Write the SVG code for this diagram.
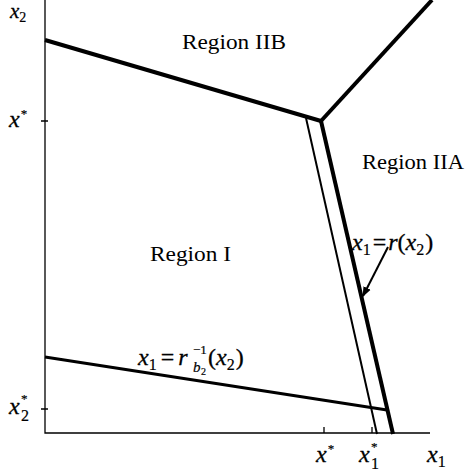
<svg xmlns="http://www.w3.org/2000/svg" width="469" height="473" viewBox="0 0 469 473">
<style>
text{font-family:"Liberation Serif","DejaVu Serif",serif;fill:#000}
.r{font-size:20px}
.m{font-size:24px;font-style:italic;stroke:#000;stroke-width:0.3}
.n{font-style:normal}
.s{font-size:16px;font-style:normal;stroke:#000;stroke-width:0.2}
.st{font-size:13px;font-style:normal;stroke:#000;stroke-width:0.2}
.ax{stroke:#000;stroke-width:1.3;fill:none}
.th{stroke:#000;stroke-width:4;fill:none;stroke-linecap:butt}
.md{stroke:#000;stroke-width:3;fill:none}
.tn{stroke:#000;stroke-width:2;fill:none}
</style>
<defs>
<marker id="ah" markerWidth="10" markerHeight="10" refX="9" refY="5" orient="auto" markerUnits="userSpaceOnUse">
<path d="M0,1 L10,5 L0,9 Z" fill="#000"/>
</marker>
</defs>
<g id="axes">
<path class="ax" d="M45,0 V433 H430"/>
<path class="ax" d="M41,121 H48 M41,409 H48 M324,433 V427 M372,433 V427"/>
</g>
<g id="connectors">
<path class="th" d="M45,40 L321,121"/>
<path class="th" d="M321,121 L432,0"/>
<path class="th" d="M321,121 L393,434"/>
<path class="tn" d="M306,118 L377,434"/>
<path class="md" d="M45,357 L387,410"/>
<path stroke="#000" stroke-width="2" fill="none" d="M388,247 L363,296" marker-end="url(#ah)"/>
</g>
<g id="axis-labels">
<text class="m" x="10" y="18" style="font-size:21px">x<tspan class="s" style="font-size:14px" dy="4">2</tspan></text>
<text class="m" x="9" y="127">x<tspan class="st" dx="1" dy="-9">*</tspan></text>
<text class="m" x="9" y="414">x</text>
<text class="st" x="21" y="403">*</text>
<text class="s" x="21" y="421">2</text>
<text class="m" x="316" y="462">x<tspan class="st" dx="1" dy="-9">*</tspan></text>
<text class="m" x="359" y="462">x</text>
<text class="st" x="371" y="451">*</text>
<text class="s" x="371" y="469">1</text>
<text class="m" x="427" y="462">x<tspan class="s" dy="5">1</tspan></text>
</g>
<g id="regionIIB"><text class="r" x="182" y="49" textLength="104" lengthAdjust="spacingAndGlyphs">Region IIB</text></g>
<g id="regionIIA"><text class="r" x="362" y="169" textLength="102" lengthAdjust="spacingAndGlyphs">Region IIA</text></g>
<g id="regionI"><text class="r" x="150" y="261" textLength="81" lengthAdjust="spacingAndGlyphs">Region I</text></g>
<g id="label-r"><text class="m" x="352" y="250">x<tspan class="s" dy="5">1</tspan><tspan class="n" dx="2" dy="-5">=</tspan><tspan dx="2">r</tspan><tspan class="n">(</tspan>x<tspan class="s" dy="5">2</tspan><tspan class="n" dx="1" dy="-5">)</tspan></text></g>
<g id="label-rinv">
<text class="m" x="138" y="365">x<tspan class="s" dy="5">1</tspan><tspan class="n" dx="4" dy="-5">=</tspan><tspan dx="4">r</tspan></text>
<text class="st" x="193" y="372" style="font-style:italic;font-size:15px">b</text>
<text class="st" x="201" y="375" style="font-size:10px">2</text>
<text class="st" x="193" y="354">−1</text>
<text class="m" x="208" y="365"><tspan class="n">(</tspan>x<tspan class="s" dy="5">2</tspan><tspan class="n" dx="1" dy="-5">)</tspan></text>
</g>
</svg>
